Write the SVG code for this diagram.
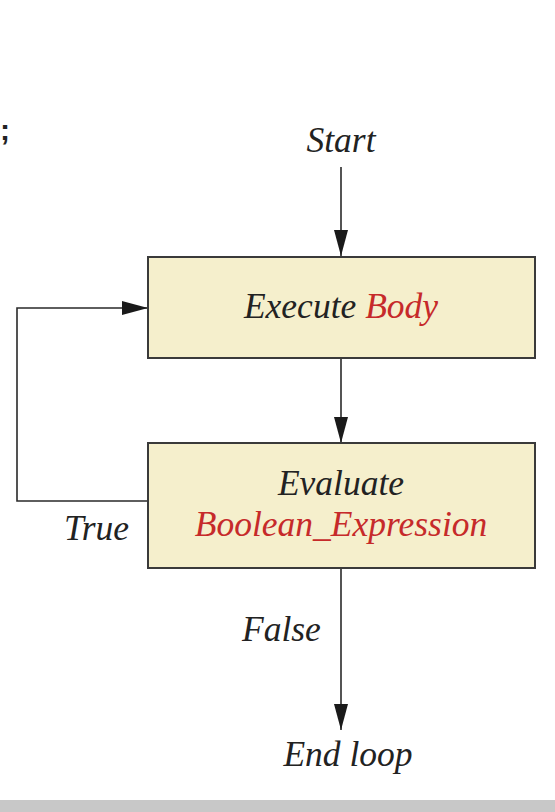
<svg xmlns="http://www.w3.org/2000/svg" width="555" height="812" viewBox="0 0 555 812">
<style>
.t{font-family:"Liberation Serif","Times New Roman",serif;font-style:italic;font-size:35.5px;fill:#222}
.r{fill:#c62a2a}
.box{fill:#f5efcc;stroke:#3a3a3a;stroke-width:2}
.ln{fill:none;stroke:#2a2a2a;stroke-width:1.6}
</style>
<defs>
<marker id="av" viewBox="0 0 26 14" refX="26" refY="7" markerWidth="26" markerHeight="14" markerUnits="userSpaceOnUse" orient="auto">
<path d="M0,0 L26,7 L0,14 Z" fill="#1a1a1a"/>
</marker>
</defs>
<rect width="555" height="812" fill="#fff"/>
<rect x="0" y="800" width="555" height="12" fill="#c8c8c8"/>
<text x="0" y="140" style="font-family:'Liberation Sans',Arial,sans-serif;font-weight:bold;font-size:30px;fill:#222">;</text>
<g id="connectors">
<line class="ln" x1="341" y1="167" x2="341" y2="256" marker-end="url(#av)"/>
<line class="ln" x1="341" y1="358" x2="341" y2="443" marker-end="url(#av)"/>
<line class="ln" x1="341" y1="568" x2="341" y2="730" marker-end="url(#av)"/>
<polyline class="ln" points="148,501 17,501 17,308 148,308" marker-end="url(#av)"/>
</g>
<g id="start"><text class="t" x="341" y="152" text-anchor="middle">Start</text></g>
<g id="execute">
<rect class="box" x="148" y="257" width="387" height="101"/>
<text class="t" x="341" y="318" text-anchor="middle">Execute <tspan class="r">Body</tspan></text>
</g>
<g id="evaluate">
<rect class="box" x="148" y="443" width="387" height="125"/>
<text class="t" x="341" y="495" text-anchor="middle">Evaluate</text>
<text class="t r" x="341" y="536" text-anchor="middle">Boolean_Expression</text>
</g>
<g id="labels">
<text class="t" x="64" y="540">True</text>
<text class="t" x="242" y="641">False</text>
</g>
<g id="end"><text class="t" x="348" y="766" text-anchor="middle">End loop</text></g>
</svg>
